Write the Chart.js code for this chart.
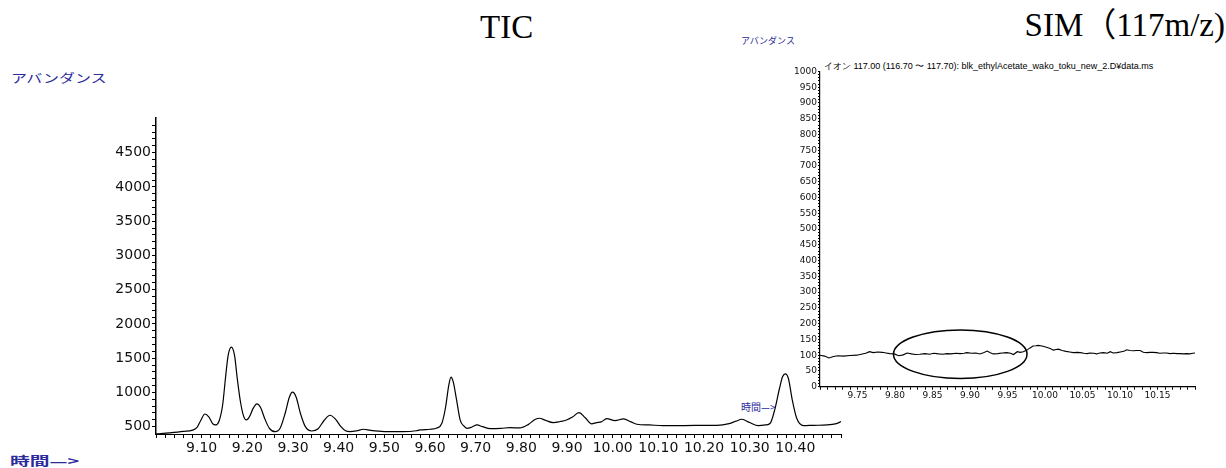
<!DOCTYPE html>
<html>
<head>
<meta charset="utf-8">
<script src="https://cdn.jsdelivr.net/npm/chart.js@4.4.1/dist/chart.umd.min.js"></script>
<style>
  body { margin: 0; background: #fff; }
  #page { position: relative; width: 1226px; height: 468px; overflow: hidden; }
  canvas { position: absolute; }
  .txt { position: absolute; white-space: nowrap; line-height: 1; }
  .blue { color: #2b2b9b; font-family: "Noto Sans CJK JP", sans-serif; }
  .big { font-family: "Liberation Serif", "Noto Sans CJK JP", serif; font-size: 33px; color: #000; }
</style>
</head>
<body>
<div id="page">
  <div class="txt big" style="left:480px; top:11px;">TIC</div>
  <div class="txt big" style="right:1px; top:9px;">SIM（117m/z)</div>
  <div class="txt blue" style="left:11px; top:72px; font-size:12px; transform:scaleX(1.33); transform-origin:left top;">アバンダンス</div>
  <div class="txt blue" style="left:741px; top:36px; font-size:9px;">アバンダンス</div>
  <div class="txt blue" style="left:10px; top:455px; font-size:12px; font-weight:bold; transform:scaleX(1.65); transform-origin:left top;">時間—&gt;</div>
  <div class="txt blue" style="left:741px; top:402px; font-size:10px;">時間—&gt;</div>
  <div class="txt" style="left:824px; top:62px; font-size:9px; font-family:'Liberation Sans', sans-serif; color:#000;">イオン 117.00 (116.70 〜 117.70): blk_ethylAcetate_wako_toku_new_2.D¥data.ms</div>
  <canvas id="tic" style="left:0px; top:100px;"></canvas>
  <canvas id="sim" style="left:770px; top:50px;"></canvas>
</div>
<script>
// TIC (left) trace
const ticTime = [9.000, 9.030, 9.060, 9.080, 9.090, 9.098, 9.107, 9.116, 9.124, 9.130,
  9.138, 9.146, 9.152, 9.158, 9.165, 9.172, 9.178, 9.185, 9.192, 9.198,
  9.205, 9.213, 9.221, 9.229, 9.238, 9.248, 9.261, 9.272, 9.283, 9.292,
  9.299, 9.307, 9.316, 9.327, 9.341, 9.355, 9.368, 9.381, 9.393, 9.405,
  9.415, 9.425, 9.440, 9.454, 9.470, 9.500, 9.540, 9.570, 9.578, 9.600,
  9.615, 9.626, 9.634, 9.641, 9.646, 9.651, 9.658, 9.666, 9.674, 9.681,
  9.692, 9.703, 9.715, 9.732, 9.755, 9.775, 9.797, 9.815, 9.830, 9.840,
  9.852, 9.870, 9.885, 9.899, 9.912, 9.926, 9.940, 9.954, 9.965, 9.975,
  9.987, 10.005, 10.024, 10.040, 10.053, 10.080, 10.110, 10.133, 10.180, 10.228,
  10.255, 10.270, 10.283, 10.300, 10.319, 10.335, 10.345, 10.355, 10.365, 10.372,
  10.378, 10.385, 10.393, 10.403, 10.418, 10.440, 10.470, 10.490, 10.500];
const ticAbund = [395, 410, 430, 450, 490, 590, 685, 640, 545, 525,
  580, 820, 1200, 1540, 1660, 1540, 1200, 860, 650, 598,
  650, 770, 832, 780, 620, 480, 427, 480, 700, 930,
  1004, 930, 700, 500, 437, 470, 590, 667, 610, 500,
  440, 427, 440, 462, 445, 428, 427, 440, 452, 462,
  480, 550, 780, 1100, 1223, 1150, 900, 598, 510, 476,
  495, 525, 500, 471, 475, 486, 481, 530, 605, 623,
  595, 559, 575, 598, 640, 705, 630, 540, 560, 570,
  617, 588, 613, 570, 535, 525, 515, 515, 518, 520,
  545, 580, 608, 560, 515, 525, 550, 750, 1050, 1230,
  1272, 1200, 900, 623, 515, 520, 525, 545, 573];

// SIM 117 m/z (right) trace
const simTime = [9.700, 9.706, 9.712, 9.718, 9.724, 9.731, 9.740, 9.749, 9.755, 9.761,
  9.766, 9.771, 9.777, 9.783, 9.788, 9.793, 9.799, 9.805, 9.811, 9.816,
  9.822, 9.827, 9.833, 9.840, 9.846, 9.852, 9.858, 9.864, 9.869, 9.875,
  9.881, 9.887, 9.892, 9.896, 9.902, 9.908, 9.913, 9.918, 9.923, 9.927,
  9.931, 9.937, 9.943, 9.949, 9.954, 9.958, 9.963, 9.967, 9.971, 9.976,
  9.980, 9.984, 9.988, 9.991, 9.996, 10.002, 10.007, 10.011, 10.015, 10.018,
  10.023, 10.028, 10.033, 10.038, 10.043, 10.047, 10.052, 10.056, 10.060, 10.065,
  10.069, 10.073, 10.078, 10.083, 10.087, 10.091, 10.096, 10.102, 10.106, 10.109,
  10.113, 10.118, 10.122, 10.127, 10.131, 10.136, 10.140, 10.144, 10.149, 10.153,
  10.158, 10.162, 10.167, 10.171, 10.176, 10.180, 10.185, 10.189, 10.193, 10.197,
  10.200];
const simAbund = [100, 97, 91, 96, 98, 97, 99, 100, 103, 106,
  111, 108, 110, 109, 107, 105, 104, 98, 101, 107,
  104, 102, 103, 105, 103, 106, 104, 103, 105, 104,
  106, 105, 106, 108, 106, 107, 104, 108, 113, 108,
  104, 105, 107, 108, 106, 102, 111, 109, 111, 116,
  123, 129, 130, 131, 129, 125, 121, 116, 118, 119,
  115, 112, 110, 108, 109, 108, 106, 105, 107, 106,
  104, 107, 108, 106, 111, 107, 108, 111, 113, 117,
  115, 114, 115, 115, 109, 108, 109, 109, 108, 106,
  107, 107, 105, 106, 105, 105, 104, 105, 104, 106,
  107];

// circled region on the SIM trace (data units)
const markEllipse = { x: 9.887, y: 103, rx: 0.089, ry: 77 };

function xy(ts, vs) {
  return ts.map(function (t, i) { return { x: t, y: vs[i] }; });
}

function fixW(w) { return function (scale) { scale.width = w; }; }
function fixH(h) { return function (scale) { scale.height = h; }; }

const ellipsePlugin = {
  id: 'ellipse',
  afterDatasetsDraw: function (chart) {
    const xs = chart.scales.x, ys = chart.scales.y, ctx = chart.ctx;
    const cx = xs.getPixelForValue(markEllipse.x);
    const cy = ys.getPixelForValue(markEllipse.y);
    const rx = xs.getPixelForValue(markEllipse.x + markEllipse.rx) - cx;
    const ry = cy - ys.getPixelForValue(markEllipse.y + markEllipse.ry);
    ctx.save();
    ctx.beginPath();
    ctx.ellipse(cx, cy, rx, ry, 0, 0, Math.PI * 2);
    ctx.lineWidth = 1.5;
    ctx.strokeStyle = '#000';
    ctx.stroke();
    ctx.restore();
  }
};

const axisGrid = function (len) {
  return { drawOnChartArea: false, drawTicks: true, tickLength: len, color: '#000', tickWidth: 1 };
};

function ticChart() {
  const el = document.getElementById('tic');
  el.width = 860; el.height = 368;
  new Chart(el, {
    type: 'line',
    data: { datasets: [{
      data: xy(ticTime, ticAbund),
      borderColor: '#000', borderWidth: 1.2, pointRadius: 0,
      cubicInterpolationMode: 'monotone', fill: false
    }] },
    options: {
      responsive: false, animation: false, events: [],
      layout: { padding: { top: 18, right: 19, left: 0, bottom: 0 } },
      plugins: { legend: { display: false }, tooltip: { enabled: false } },
      scales: {
        x: {
          type: 'linear', min: 9.0, max: 10.5,
          afterFit: fixH(34),
          border: { color: '#000', width: 1 },
          grid: axisGrid(4),
          ticks: {
            stepSize: 0.02, autoSkip: false, maxRotation: 0, padding: 2,
            color: '#111', font: { family: 'DejaVu Sans', size: 14 },
            callback: function (v) {
              const k = Math.round(v * 100);
              return (k % 10 === 0 && k > 900 && k < 1050) ? (k / 100).toFixed(2) : '';
            }
          }
        },
        y: {
          min: 393, max: 5006,
          afterFit: fixW(156),
          afterBuildTicks: function (s) { s.ticks = s.ticks.filter(function (t) { return Math.round(t.value) % 100 === 0; }); },
          border: { color: '#000', width: 1.5 },
          grid: axisGrid(4),
          ticks: {
            stepSize: 100, autoSkip: false, padding: 1,
            color: '#111', font: { family: 'DejaVu Sans', size: 14 },
            callback: function (v) { return Math.round(v) % 500 === 0 ? String(Math.round(v)) : ''; }
          }
        }
      }
    }
  });
}

function simChart() {
  const el = document.getElementById('sim');
  el.width = 456; el.height = 380;
  new Chart(el, {
    type: 'line',
    data: { datasets: [{
      data: xy(simTime, simAbund),
      borderColor: '#000', borderWidth: 1.1, pointRadius: 0, tension: 0, fill: false
    }] },
    options: {
      responsive: false, animation: false, events: [],
      layout: { padding: { top: 21.4, right: 31, left: 0, bottom: 0 } },
      plugins: { legend: { display: false }, tooltip: { enabled: false } },
      scales: {
        x: {
          type: 'linear', min: 9.70, max: 10.20,
          afterFit: fixH(43.3),
          border: { color: '#000', width: 1.2 },
          grid: axisGrid(3),
          ticks: {
            stepSize: 0.01, autoSkip: false, maxRotation: 0, padding: 1,
            color: '#111', font: { family: 'DejaVu Sans', size: 9 },
            callback: function (v) {
              const k = Math.round(v * 100);
              return (k % 5 === 0 && k > 970 && k < 1020) ? (k / 100).toFixed(2) : '';
            }
          }
        },
        y: {
          min: 0, max: 1000,
          afterFit: fixW(50),
          border: { color: '#000', width: 1.2 },
          grid: axisGrid(2),
          ticks: {
            stepSize: 10, autoSkip: false, padding: 1,
            color: '#111', font: { family: 'DejaVu Sans', size: 9 },
            callback: function (v) { return Math.round(v) % 50 === 0 ? String(Math.round(v)) : ''; }
          }
        }
      }
    },
    plugins: [ellipsePlugin]
  });
}

window.onload = function () {
  ticChart();
  simChart();
};
</script>
</body>
</html>
